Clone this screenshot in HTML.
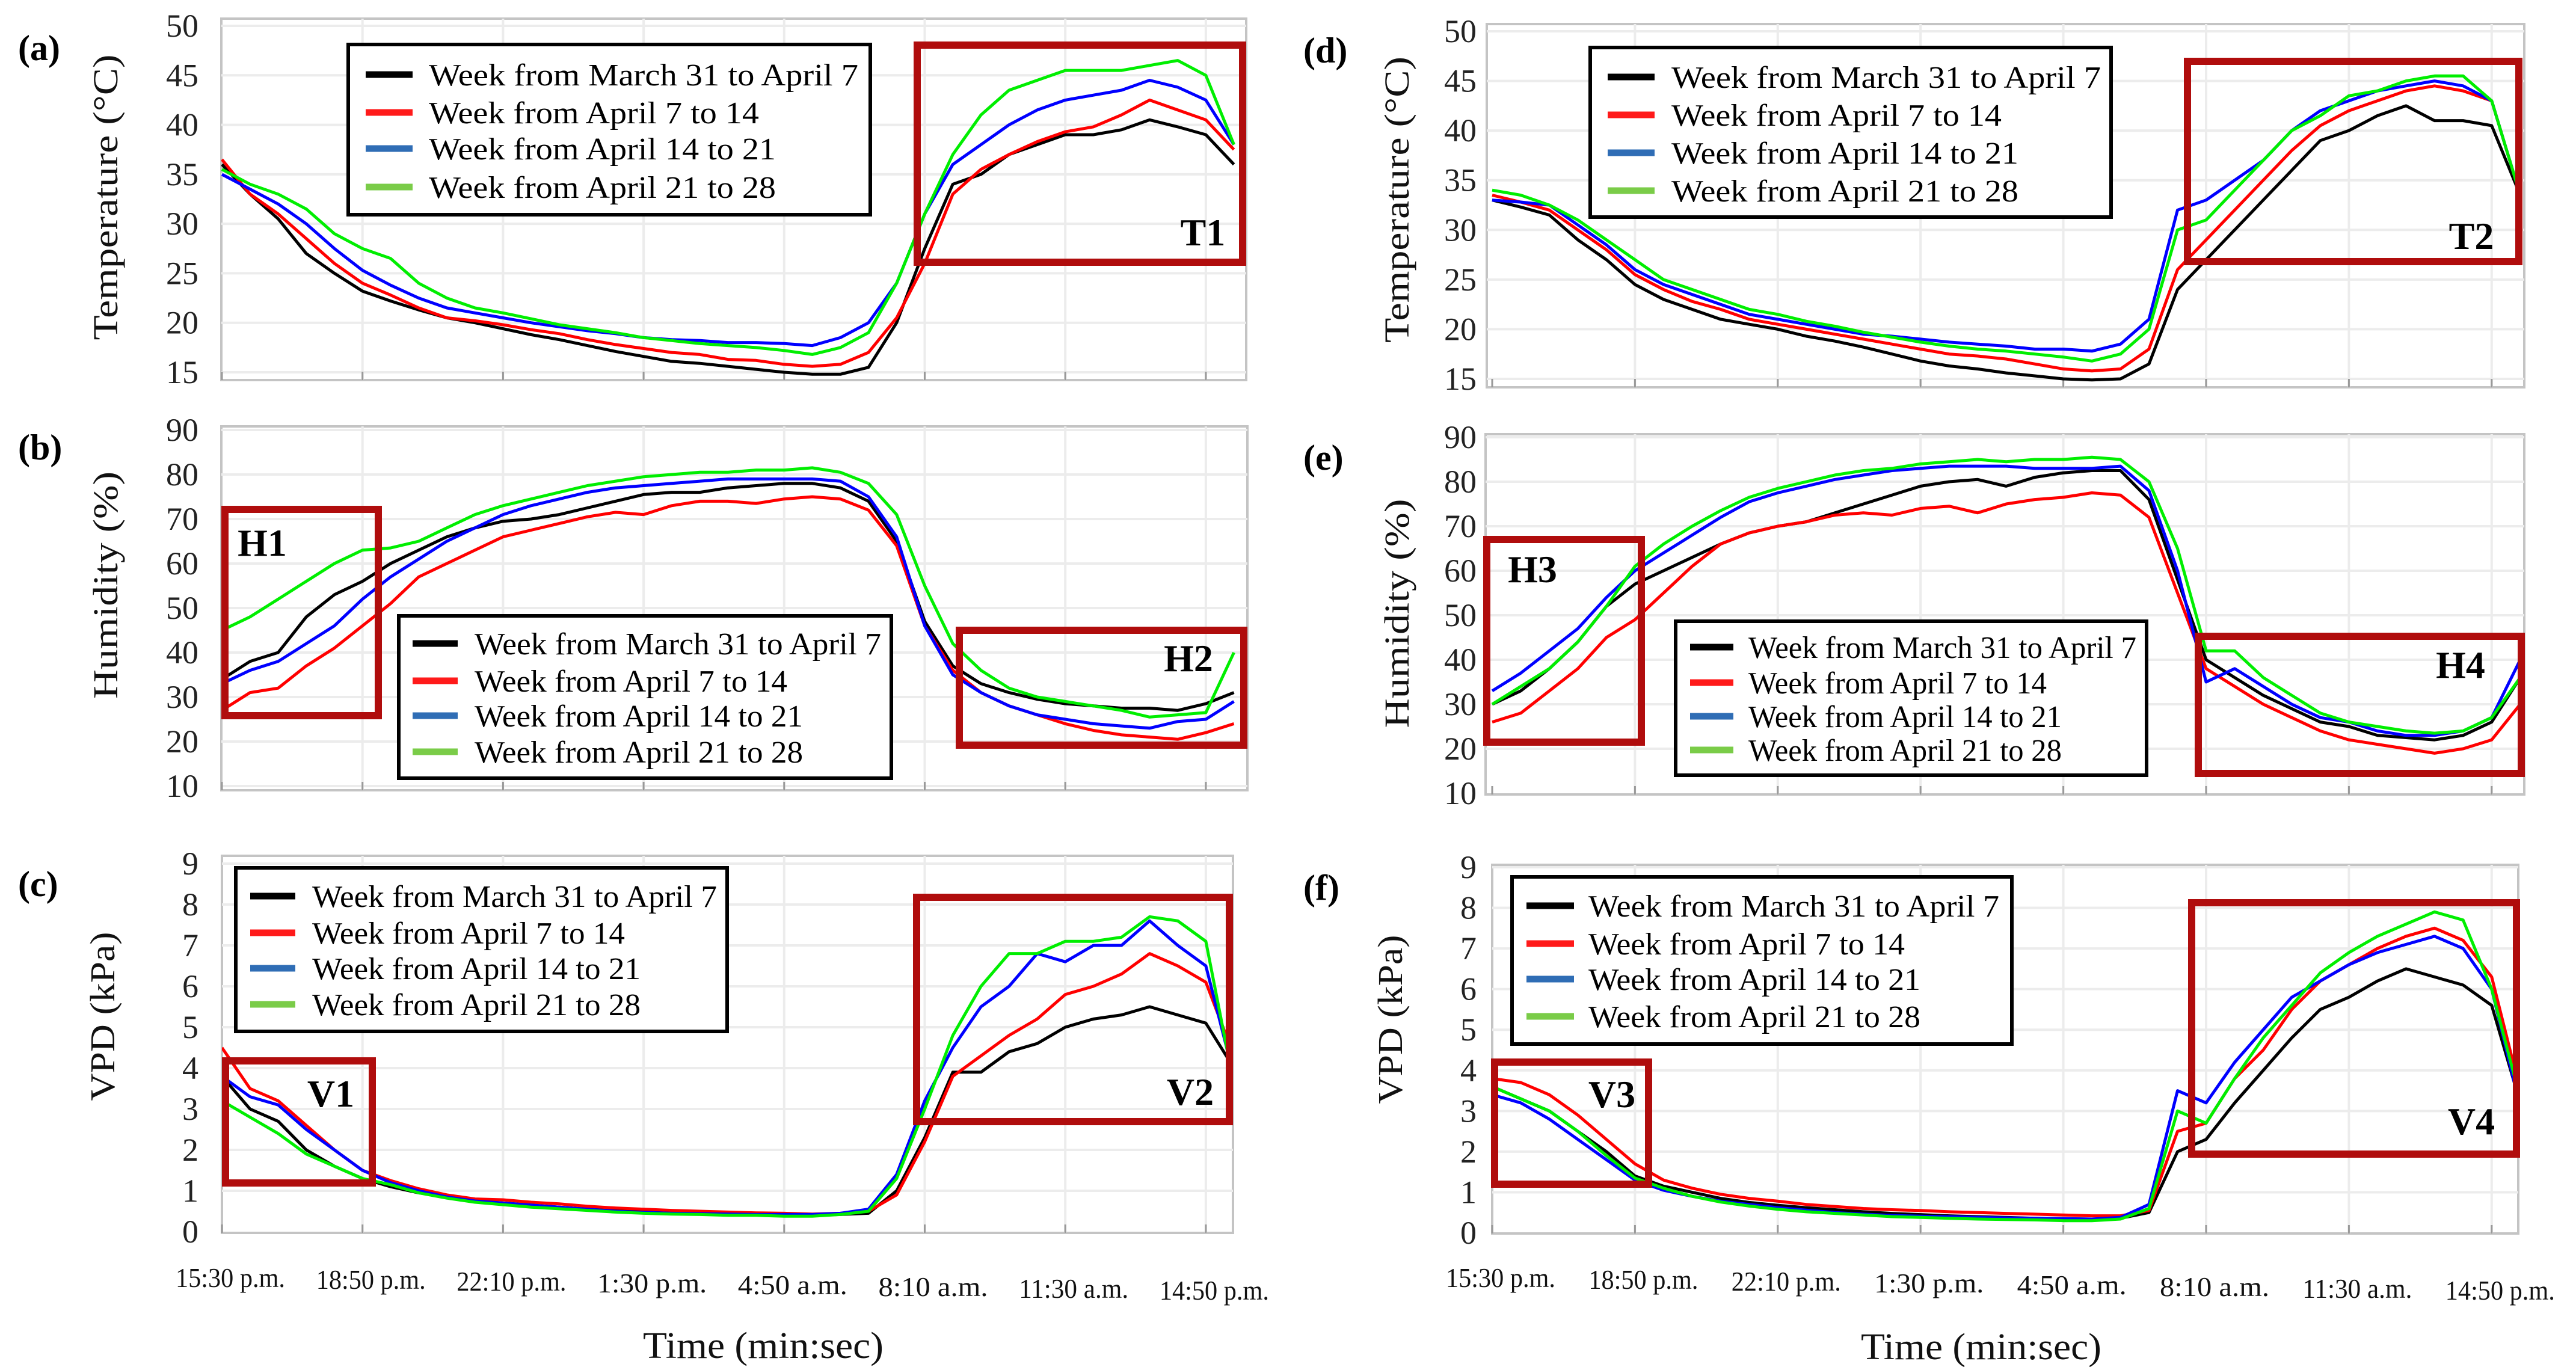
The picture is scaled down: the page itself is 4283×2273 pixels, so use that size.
<!DOCTYPE html>
<html><head><meta charset="utf-8"><title>Temperature, humidity and VPD charts</title>
<style>
html,body{margin:0;padding:0;background:#fff;}
svg{display:block;font-family:"Liberation Serif",serif;}
</style></head>
<body>
<svg id="fig" xmlns="http://www.w3.org/2000/svg" width="4283" height="2273" viewBox="0 0 4283 2273"></svg>
<script>
const times = [0,0.2,0.4,0.6,0.8,1.0,1.2,1.4,1.6,1.8,2.0,2.2,2.4,2.6,2.8,3.0,3.2,3.4,3.6,3.8,4.0,4.2,4.4,4.6,4.8,5.0,5.2,5.4,5.6,5.8,6.0,6.2,6.4,6.6,6.8,7.0,7.2];
const timeTickLabels = ["15:30 p.m.","18:50 p.m.","22:10 p.m.","1:30 p.m.","4:50 a.m.","8:10 a.m.","11:30 a.m.","14:50 p.m."];
const tempTicks = [15,20,25,30,35,40,45,50];
const humTicks = [10,20,30,40,50,60,70,80,90];
const vpdTicks = [0,1,2,3,4,5,6,7,8,9];
const seriesNames = ["Week from March 31 to April 7","Week from April 7 to 14","Week from April 14 to 21","Week from April 21 to 28"];

const aBlack = [36,33,30.5,27,25,23.2,22.2,21.3,20.5,20,19.4,18.8,18.3,17.7,17.1,16.6,16.1,15.9,15.6,15.3,15.0,14.8,14.8,15.5,20,27.5,34,35,37,38,39,39,39.5,40.5,39.8,39,36];
const aRed = [36.5,33,31,28.5,26,24,22.8,21.5,20.5,20.2,19.8,19.3,18.9,18.3,17.8,17.4,17,16.8,16.3,16.2,15.8,15.6,15.8,17,20.5,26,33,35.5,37,38.3,39.3,39.8,41,42.5,41.5,40.5,37.5];
const aBlue = [35,33.5,32,30,27.5,25.3,23.8,22.5,21.5,21,20.5,20,19.6,19.2,18.9,18.5,18.3,18.2,18,18,17.9,17.7,18.5,20,24,31,36,38,40,41.5,42.5,43,43.5,44.5,43.8,42.5,38];
const aGreen = [35.5,34,33,31.5,29,27.5,26.5,24,22.5,21.5,21,20.4,19.8,19.4,19,18.5,18.2,17.9,17.7,17.5,17.2,16.8,17.5,19,24,31,37,41,43.5,44.5,45.5,45.5,45.5,46,46.5,45,38];

const bBlack = [34,38,40,48,53,56,60,63,66,68,69.5,70,71,72.5,74,75.5,76,76,77,77.5,78,78,77,74,65,47,37,33,31,29.5,28.5,28,27.5,27.5,27,28.5,31];
const bRed = [27,31,32,37,41,46,51,57,60,63,66,67.5,69,70.5,71.5,71,73,74,74,73.5,74.5,75,74.5,72,64,46,36,31,28,26,24,22.5,21.5,21,20.5,22,24];
const bBlue = [33,36,38,42,46,52,57,61,65,68,71,73,74.5,76,77,77.5,78,78.5,79,79,79,79,78.5,75,66,46,35,31,28,26,25,24,23.5,23,24.5,25,29];
const bGreen = [45,48,52,56,60,63,63.5,65,68,71,73,74.5,76,77.5,78.5,79.5,80,80.5,80.5,81,81,81.5,80.5,78,71,55,42,36,32,30,29,28,27,25.5,26,26.5,40];

const cBlack = [3.8,3.0,2.7,2.0,1.6,1.3,1.1,0.95,0.85,0.75,0.7,0.65,0.6,0.55,0.52,0.5,0.48,0.46,0.45,0.44,0.42,0.4,0.42,0.45,1.0,2.3,3.9,3.9,4.4,4.6,5.0,5.2,5.3,5.5,5.3,5.1,4.0];
const cRed = [4.5,3.5,3.2,2.6,2.0,1.5,1.25,1.05,0.9,0.8,0.78,0.72,0.68,0.62,0.58,0.55,0.52,0.5,0.48,0.46,0.45,0.43,0.45,0.5,0.9,2.2,3.8,4.3,4.8,5.2,5.8,6.0,6.3,6.8,6.5,6.1,4.3];
const cBlue = [3.8,3.3,3.1,2.5,2.0,1.5,1.2,1.0,0.85,0.75,0.7,0.65,0.6,0.55,0.5,0.47,0.45,0.44,0.43,0.42,0.42,0.42,0.45,0.55,1.4,3.2,4.5,5.5,6.0,6.8,6.6,7.0,7.0,7.6,7.0,6.5,3.8];
const cGreen = [3.2,2.8,2.4,1.9,1.6,1.3,1.15,0.95,0.82,0.72,0.66,0.6,0.56,0.52,0.48,0.45,0.43,0.42,0.4,0.4,0.38,0.38,0.42,0.5,1.3,3.0,4.8,6.0,6.8,6.8,7.1,7.1,7.2,7.7,7.6,7.1,3.6];

const dBlack = [33,32.3,31.5,29,27,24.5,23,22,21,20.5,20,19.3,18.8,18.2,17.5,16.8,16.3,16,15.6,15.3,15,14.9,15,16.5,24,27,30,33,36,39,40,41.5,42.5,41,41,40.5,33.5];
const dRed = [33.5,32.8,32,30,28,25.5,24,22.8,22,21,20.5,20,19.5,19,18.5,18,17.5,17.3,17,16.5,16,15.8,16,18,26,29,32,35,38,40.5,42,43,44,44.5,44,43,33.5];
const dBlue = [33,32.8,32.5,30.5,28.5,26,24.5,23.5,22.5,21.5,21,20.5,20,19.5,19.3,19,18.7,18.5,18.3,18,18,17.8,18.5,21,32,33,35,37,40,42,43,44,44.5,45,44.5,43,33.5];
const dGreen = [34,33.5,32.5,31,29,27,25,24,23,22,21.5,20.8,20.3,19.7,19.2,18.7,18.3,18,17.8,17.5,17.2,16.8,17.5,20,30,31,34,37,40,41.5,43.5,44,45,45.5,45.5,43,33.5];

const eBlack = [30,33,38,44,52,57,60,63,66,68.5,70,71,73,75,77,79,80,80.5,79,81,82,82.5,82.5,76,58,40,36,32,29,26,25,23,22.5,22,23,26,36];
const eRed = [26,28,33,38,45,49,55,61,66,68.5,70,71,72.5,73,72.5,74,74.5,73,75,76,76.5,77.5,77,72,55,38,34,30,27,24,22,21,20,19,20,22,30];
const eBlue = [33,37,42,47,54,60,64,68,72,75.5,77.5,79,80.5,81.5,82.5,83,83.5,83.5,83.5,83,83,83,83.5,78,60,35,38,34,30,27,26,24,23,23,24,27,40];
const eGreen = [30,34,38,44,52,61,66,70,73.5,76.5,78.5,80,81.5,82.5,83,84,84.5,85,84.5,85,85,85.5,85,80,65,42,42,36,32,28,26,25,24,23.5,24,27,36];

const fBlack = [3.6,3.3,3.0,2.5,2.0,1.4,1.15,1.0,0.85,0.75,0.68,0.62,0.57,0.52,0.48,0.45,0.42,0.4,0.38,0.36,0.35,0.34,0.36,0.5,2.0,2.3,3.2,4.0,4.8,5.5,5.8,6.2,6.5,6.3,6.1,5.6,3.2];
const fRed = [3.8,3.7,3.4,2.9,2.3,1.7,1.3,1.1,0.95,0.85,0.78,0.7,0.65,0.6,0.57,0.55,0.52,0.5,0.48,0.46,0.44,0.42,0.42,0.55,2.5,2.7,3.8,4.5,5.5,6.2,6.6,7.0,7.3,7.5,7.2,6.3,3.5];
const fBlue = [3.4,3.2,2.8,2.3,1.8,1.3,1.05,0.9,0.78,0.7,0.62,0.56,0.5,0.46,0.43,0.41,0.4,0.38,0.37,0.36,0.35,0.34,0.38,0.7,3.5,3.2,4.2,5.0,5.8,6.2,6.6,6.9,7.1,7.3,7.0,6.0,3.1];
const fGreen = [3.6,3.3,3.0,2.5,1.9,1.35,1.1,0.9,0.76,0.66,0.58,0.52,0.48,0.44,0.4,0.38,0.36,0.34,0.33,0.32,0.3,0.3,0.34,0.6,3.0,2.7,3.8,4.8,5.6,6.4,6.9,7.3,7.6,7.9,7.7,6.0,3.3];

const NS = "http://www.w3.org/2000/svg";
const svg = document.getElementById('fig');
const lineColors = ["#000000","#ff0000","#0000ff","#00ee00"];
const legendColors = ["#000000","#ff1a1a","#2f6db5","#7acc48"];

function mk(tag, attrs, parent){
  const e = document.createElementNS(NS, tag);
  for (const k in attrs) e.setAttribute(k, attrs[k]);
  (parent||svg).appendChild(e);
  return e;
}

const panels = [
 {id:"a", title:"Temperature (°C)", tl:475, ticks:tempTicks, L:368,R:2072,T:31,B:632, v1:50,p1:43,v0:15,p0:619, x0:369,dx:233.7, series:[aBlack,aRed,aBlue,aGreen],
  letter:[30,100], ytx:176, yty:328, leg:{x:579,y:74,w:868,h:283,rows:[124,187,247,311],sx:608,sw:78,tx:713,tw:[714,549,577,577]},
  boxes:[["T1",1519,69,2072,442,2000,386]], tickRight:330},
 {id:"b", title:"Humidity (%)", tl:378, ticks:humTicks, L:368,R:2074,T:709,B:1314, v1:90,p1:715,v0:10,p0:1307, x0:369,dx:233.7, series:[bBlack,bRed,bBlue,bGreen],
  letter:[30,764], ytx:176, yty:973, leg:{x:663,y:1024,w:819,h:270,rows:[1070,1132,1190,1250],sx:686,sw:75,tx:789,tw:[676,520,546,546]},
  boxes:[["H1",368,841,635,1196,436,902],["H2",1589,1042,2074,1245,1976,1094]], tickRight:330},
 {id:"c", title:"VPD (kPa)", tl:281, ticks:vpdTicks, L:369,R:2050,T:1423,B:2050, v1:9,p1:1436,v0:0,p0:2048, x0:369,dx:233.7, series:[cBlack,cRed,cBlue,cGreen],
  letter:[30,1490], ytx:171, yty:1690, leg:{x:392,y:1443,w:817,h:272,rows:[1490,1551,1610,1670],sx:416,sw:75,tx:519,tw:[673,520,546,546]},
  boxes:[["V1",369,1758,625,1973,550,1818],["V2",1518,1486,2050,1871,1979,1815]], tickRight:330, xlabels:true, xtitle:[1269,2238]},
 {id:"d", title:"Temperature (°C)", tl:476, ticks:tempTicks, L:2472,R:4197,T:40,B:644, v1:50,p1:52,v0:15,p0:630, x0:2481,dx:237.4, series:[dBlack,dRed,dBlue,dGreen],
  letter:[2167,104], ytx:2323, yty:332, leg:{x:2644,y:79,w:866,h:282,rows:[128,191,254,317],sx:2673,sw:78,tx:2779,tw:[714,549,577,577]},
  boxes:[["T2",3631,96,4194,441,4109,392]], tickRight:2455},
 {id:"e", title:"Humidity (%)", tl:381, ticks:humTicks, L:2470,R:4197,T:722,B:1321, v1:90,p1:727,v0:10,p0:1319, x0:2481,dx:237.4, series:[eBlack,eRed,eBlue,eGreen],
  letter:[2167,781], ytx:2323, yty:1020, leg:{x:2786,y:1033,w:783,h:256,rows:[1076,1135,1191,1247],sx:2810,sw:72,tx:2907,tw:[645,496,521,521]},
  boxes:[["H3",2466,891,2735,1240,2548,946],["H4",3649,1052,4198,1292,4091,1105]], tickRight:2455},
 {id:"f", title:"VPD (kPa)", tl:281, ticks:vpdTicks, L:2481,R:4187,T:1438,B:2051, v1:9,p1:1442,v0:0,p0:2050, x0:2481,dx:237.4, series:[fBlack,fRed,fBlue,fGreen],
  letter:[2167,1496], ytx:2312, yty:1695, leg:{x:2514,y:1458,w:831,h:278,rows:[1506,1569,1628,1690],sx:2538,sw:79,tx:2641,tw:[683,526,552,552]},
  boxes:[["V3",2479,1760,2747,1975,2680,1819],["V4",3638,1495,4190,1925,4109,1864]], tickRight:2455, xlabels:true, xtitle:[3294,2240]}
];

panels.forEach(p => {
  const g = mk('g', {});
  
  
  const ys = v => p.p0 + (v - p.v0) * (p.p1 - p.p0) / (p.v1 - p.v0);
  const xs = t => p.x0 + t * p.dx;
  const clipId = 'clip-' + p.id;
  const cp = mk('clipPath', {id: clipId}, g);
  mk('rect', {x:p.L, y:p.T, width:p.R-p.L, height:p.B-p.T}, cp);

  const frame = mk('rect', {x:p.L, y:p.T, width:p.R-p.L, height:p.B-p.T, fill:'#fff', stroke:'#c4c4c4', 'stroke-width':4}, g);
  
  

  p.ticks.forEach(v => {
    const y = ys(v);
    if (y > p.T + 3 && y < p.B - 3) {
      const gl = mk('line', {x1:p.L, x2:p.R, y1:y, y2:y, stroke:'#ececec', 'stroke-width':4}, g);
      
      
    }
    const lab = String(v);
    const tl = mk('text', {x:p.tickRight, y:y+18, 'text-anchor':'end', 'font-size':54, fill:'#222', textLength:lab.length*27, lengthAdjust:'spacingAndGlyphs'}, g);
    tl.textContent = lab;
    
    
  });
  timeTickLabels.forEach((lab, i) => {
    const x = xs(i);
    if (i > 0) {
      const gl = mk('line', {x1:x, x2:x, y1:p.T, y2:p.B, stroke:'#ececec', 'stroke-width':4}, g);
      
      
    }
    const tk = mk('line', {x1:x, x2:x, y1:p.B-14, y2:p.B, stroke:'#999', 'stroke-width':3}, g);
    
    
    if (p.xlabels) {
      const t = mk('text', {x:x+14, y:2140+i*3, 'text-anchor':'middle', 'font-size':46, fill:'#111', textLength:182, lengthAdjust:'spacingAndGlyphs'}, svg);
      t.textContent = lab;
      
      
    }
  });

  p.series.forEach((arr, si) => {
    const n = Math.min(arr.length, times.length);
    let d = '';
    for (let i = 0; i < n; i++) d += (i ? 'L' : 'M') + xs(times[i]).toFixed(1) + ',' + ys(arr[i]).toFixed(1);
    const path = mk('path', {d:d, fill:'none', stroke:lineColors[si], 'stroke-width':5, 'stroke-linejoin':'round', 'clip-path':'url(#'+clipId+')'}, g);
    
    
  });

  p.boxes.forEach(b => {
    const r = mk('rect', {x:b[1]+6, y:b[2]+6, width:b[3]-b[1]-12, height:b[4]-b[2]-12, fill:'none', stroke:'#b00d0d', 'stroke-width':12}, g);
    
    
    const t = mk('text', {x:b[5], y:b[6]+22, 'text-anchor':'middle', 'font-size':64, 'font-weight':'bold', fill:'#000'}, g);
    t.textContent = b[0];
    
    
  });

  const L = p.leg;
  const lg = mk('g', {}, g);
  
  
  mk('rect', {x:L.x, y:L.y, width:L.w, height:L.h, fill:'#fff', stroke:'#000', 'stroke-width':6}, lg);
  seriesNames.forEach((nm, i) => {
    const eg = mk('g', {}, lg);
    
    
    mk('line', {x1:L.sx, x2:L.sx+L.sw, y1:L.rows[i], y2:L.rows[i], stroke:legendColors[i], 'stroke-width':11}, eg);
    const t = mk('text', {x:L.tx, y:L.rows[i]+18, 'font-size':52, fill:'#000', textLength:L.tw[i], lengthAdjust:'spacingAndGlyphs'}, eg);
    t.textContent = nm;
  });

  const pl = mk('text', {x:p.letter[0], y:p.letter[1], 'font-size':60, 'font-weight':'bold', fill:'#000'}, svg);
  pl.textContent = '(' + p.id + ')';
  
  

  const yt = mk('text', {x:0, y:0, transform:'translate('+(p.ytx+19)+','+p.yty+') rotate(-90)', 'text-anchor':'middle', 'font-size':58, fill:'#111', textLength:p.tl, lengthAdjust:'spacingAndGlyphs'}, svg);
  yt.textContent = p.title;
  
  

  if (p.xtitle) {
    const xt = mk('text', {x:p.xtitle[0], y:p.xtitle[1]+20, 'text-anchor':'middle', 'font-size':62, fill:'#111', textLength:400, lengthAdjust:'spacingAndGlyphs'}, svg);
    xt.textContent = 'Time (min:sec)';
    
    
  }
});
</script>
</body></html>
